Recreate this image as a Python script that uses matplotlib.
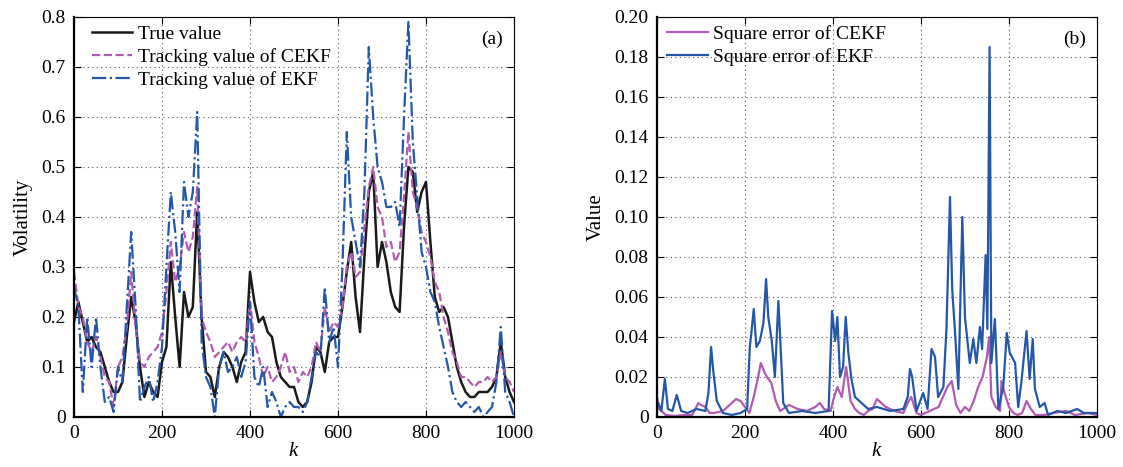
import numpy as np
import matplotlib
matplotlib.use("Agg")
import matplotlib.pyplot as plt
from matplotlib.ticker import FuncFormatter

plt.rcParams['font.family'] = ['Liberation Serif', 'DejaVu Serif']
plt.rcParams['font.size'] = 14
plt.rcParams['mathtext.fontset'] = 'custom'
plt.rcParams['mathtext.it'] = 'Liberation Serif:italic'

# ---- (a) volatility tracking, sampled every 10 steps ----
k = np.arange(0, 1001, 10)

true_vol = [0.19, 0.23, 0.19, 0.15, 0.16, 0.14, 0.13, 0.10, 0.07, 0.05,
            0.05, 0.07, 0.16, 0.24, 0.19, 0.10, 0.04, 0.07, 0.05, 0.04,
            0.11, 0.14, 0.31, 0.20, 0.10, 0.25, 0.20, 0.22, 0.41, 0.20,
            0.09, 0.08, 0.04, 0.10, 0.13, 0.12, 0.10, 0.07, 0.11, 0.13,
            0.29, 0.23, 0.19, 0.20, 0.17, 0.16, 0.11, 0.08, 0.07, 0.06,
            0.06, 0.03, 0.02, 0.03, 0.07, 0.14, 0.13, 0.09, 0.15, 0.16,
            0.16, 0.22, 0.29, 0.35, 0.24, 0.17, 0.32, 0.45, 0.49, 0.30,
            0.35, 0.31, 0.25, 0.22, 0.21, 0.38, 0.50, 0.49, 0.41, 0.45,
            0.47, 0.35, 0.24, 0.21, 0.22, 0.20, 0.15, 0.10, 0.07, 0.05,
            0.04, 0.04, 0.05, 0.05, 0.05, 0.06, 0.08, 0.15, 0.08, 0.05,
            0.03]

cekf_vol = [0.29, 0.22, 0.20, 0.15, 0.13, 0.16, 0.12, 0.08, 0.07, 0.02,
            0.10, 0.12, 0.18, 0.29, 0.18, 0.11, 0.10, 0.12, 0.13, 0.14,
            0.17, 0.25, 0.35, 0.27, 0.30, 0.37, 0.33, 0.36, 0.46, 0.20,
            0.17, 0.15, 0.12, 0.13, 0.14, 0.15, 0.13, 0.15, 0.16, 0.15,
            0.23, 0.15, 0.12, 0.08, 0.10, 0.07, 0.08, 0.10, 0.13, 0.09,
            0.10, 0.07, 0.09, 0.08, 0.10, 0.15, 0.13, 0.22, 0.17, 0.19,
            0.18, 0.22, 0.30, 0.33, 0.28, 0.29, 0.38, 0.46, 0.50, 0.42,
            0.40, 0.34, 0.35, 0.31, 0.33, 0.44, 0.57, 0.45, 0.42, 0.37,
            0.35, 0.32, 0.27, 0.25, 0.20, 0.17, 0.13, 0.11, 0.08, 0.08,
            0.07, 0.06, 0.07, 0.07, 0.08, 0.07, 0.08, 0.13, 0.08, 0.07,
            0.05]

ekf_vol = [0.26, 0.22, 0.05, 0.20, 0.10, 0.20, 0.10, 0.03, 0.04, 0.01,
           0.10, 0.07, 0.22, 0.37, 0.22, 0.03, 0.06, 0.08, 0.03, 0.07,
           0.14, 0.30, 0.45, 0.37, 0.25, 0.47, 0.40, 0.45, 0.61, 0.15,
           0.08, 0.06, 0.00, 0.10, 0.13, 0.09, 0.10, 0.12, 0.08, 0.11,
           0.23, 0.08, 0.06, 0.10, 0.02, 0.05, 0.03, 0.00, 0.02, 0.03,
           0.02, 0.02, 0.01, 0.03, 0.08, 0.13, 0.12, 0.26, 0.15, 0.18,
           0.10, 0.30, 0.57, 0.40, 0.35, 0.30, 0.45, 0.74, 0.60, 0.50,
           0.47, 0.42, 0.42, 0.43, 0.38, 0.60, 0.79, 0.55, 0.44, 0.33,
           0.30, 0.25, 0.23, 0.18, 0.14, 0.10, 0.05, 0.03, 0.02, 0.03,
           0.02, 0.01, 0.02, 0.00, 0.01, 0.02, 0.07, 0.18, 0.05, 0.03,
           0.00]

# ---- (b) square errors ----
cekf_err_k = [0, 5, 20, 40, 60, 80, 94, 100, 110, 120, 130, 150, 160, 170,
              180, 190, 200, 210, 220, 230, 236, 245, 250, 260, 270, 280,
              300, 320, 340, 360, 370, 380, 395, 400, 410, 420, 430, 440,
              450, 460, 470, 480, 490, 500, 520, 540, 560, 570, 578, 590,
              600, 620, 640, 650, 660, 670, 680, 690, 700, 710, 720, 730,
              740, 750, 755, 760, 770, 780, 783, 790, 800, 810, 820, 830,
              840, 850, 860, 880, 900, 930, 950, 980, 1000]
cekf_err = [0.010, 0.004, 0.001, 0.0005, 0.001, 0.001, 0.007, 0.006, 0.005,
            0.002, 0.002, 0.003, 0.005, 0.007, 0.009, 0.008, 0.005, 0.002,
            0.010, 0.020, 0.027, 0.022, 0.020, 0.017, 0.008, 0.003, 0.006,
            0.004, 0.003, 0.005, 0.007, 0.004, 0.003, 0.008, 0.015, 0.010,
            0.025, 0.008, 0.004, 0.002, 0.001, 0.003, 0.004, 0.009, 0.005,
            0.003, 0.002, 0.007, 0.010, 0.002, 0.001, 0.003, 0.005, 0.010,
            0.015, 0.018, 0.006, 0.002, 0.005, 0.003, 0.008, 0.015, 0.020,
            0.030, 0.040, 0.010, 0.005, 0.003, 0.018, 0.012, 0.005, 0.002,
            0.001, 0.002, 0.008, 0.004, 0.001, 0.001, 0.002, 0.003, 0.001,
            0.002, 0.001]

ekf_err_k = [0, 3, 10, 18, 25, 35, 45, 55, 70, 90, 110, 117, 123, 128, 136,
             150, 170, 190, 205, 211, 215, 220, 226, 234, 242, 248, 253, 261,
             268, 276, 280, 287, 300, 330, 360, 390, 398, 405, 410, 416, 423,
             429, 435, 442, 450, 465, 480, 500, 530, 560, 570, 575, 580, 590,
             605, 615, 624, 632, 639, 651, 658, 666, 671, 677, 685, 694, 700,
             711, 719, 726, 734, 739, 747, 751, 756, 760, 768, 776, 787, 795,
             802, 814, 821, 828, 840, 847, 854, 859, 870, 881, 889, 910, 930,
             955, 970, 1000]
ekf_err = [0.005, 0.007, 0.003, 0.019, 0.004, 0.003, 0.011, 0.003, 0.002,
           0.004, 0.003, 0.012, 0.035, 0.023, 0.008, 0.002, 0.001, 0.002,
           0.004, 0.035, 0.043, 0.054, 0.035, 0.038, 0.047, 0.069, 0.050,
           0.038, 0.020, 0.058, 0.040, 0.007, 0.002, 0.003, 0.002, 0.003,
           0.053, 0.038, 0.050, 0.020, 0.025, 0.050, 0.032, 0.019, 0.010,
           0.007, 0.004, 0.005, 0.003, 0.004, 0.010, 0.024, 0.020, 0.003,
           0.012, 0.004, 0.034, 0.030, 0.010, 0.015, 0.044, 0.110, 0.064,
           0.044, 0.014, 0.100, 0.050, 0.027, 0.039, 0.027, 0.045, 0.034,
           0.081, 0.044, 0.185, 0.027, 0.049, 0.004, 0.015, 0.042, 0.032,
           0.027, 0.005, 0.017, 0.043, 0.019, 0.039, 0.014, 0.005, 0.007,
           0.001, 0.003, 0.002, 0.004, 0.002, 0.002]

c_true = '#1a1a1a'
c_cekf = '#b05cb0'
c_ekf = '#2457a8'


def zero_fmt(fmt):
    return FuncFormatter(lambda v, p: '0' if abs(v) < 1e-12 else fmt % v)


def style_axes(ax):
    ax.set_xlim(0, 1000)
    ax.set_xticks(np.arange(0, 1001, 200))
    ax.tick_params(direction='in', top=True, right=True, length=5,
                   width=0.8, labelsize=14, pad=6)
    ax.grid(True, linestyle=(0, (1, 3)), color='0.35', linewidth=0.8)
    for s in ['top', 'right']:
        ax.spines[s].set_linewidth(0.8)
    for s in ['left', 'bottom']:
        ax.spines[s].set_linewidth(1.6)
    ax.set_xlabel('$k$', fontsize=15, labelpad=0)


def add_legend(ax, x0):
    ax.legend(loc='upper left', bbox_to_anchor=(x0, 1.004), frameon=False,
              fontsize=14, handlelength=2.1, borderaxespad=0.1,
              labelspacing=0.26, handletextpad=0.3)


fig = plt.figure(figsize=(11.23, 4.67), dpi=100)
ax1 = fig.add_axes([0.0659, 0.1071, 0.3918, 0.8565])
ax2 = fig.add_axes([0.585, 0.1071, 0.3918, 0.8565])

ax1.plot(k, true_vol, '-', color=c_true, lw=1.8, label='True value')
ax1.plot(k, cekf_vol, '--', color=c_cekf, lw=1.6, label='Tracking value of CEKF')
ax1.plot(k, ekf_vol, '-.', color=c_ekf, lw=1.6, label='Tracking value of EKF')
ax1.set_ylim(0, 0.8)
ax1.set_yticks(np.arange(0, 0.81, 0.1))
ax1.yaxis.set_major_formatter(zero_fmt('%.1f'))
ax1.set_ylabel('Volatility', fontsize=15, labelpad=6)
style_axes(ax1)
add_legend(ax1, 0.018)
ax1.text(0.975, 0.965, '(a)', transform=ax1.transAxes, ha='right', va='top',
         fontsize=14)

ax2.plot(cekf_err_k, cekf_err, '-', color=c_cekf, lw=1.6,
         label='Square error of CEKF')
ax2.plot(ekf_err_k, ekf_err, '-', color=c_ekf, lw=1.6,
         label='Square error of EKF')
ax2.set_ylim(0, 0.2)
ax2.set_yticks(np.arange(0, 0.201, 0.02))
ax2.yaxis.set_major_formatter(zero_fmt('%.2f'))
ax2.set_ylabel('Value', fontsize=15, labelpad=6)
style_axes(ax2)
add_legend(ax2, 0.0)
ax2.text(0.975, 0.965, '(b)', transform=ax2.transAxes, ha='right', va='top',
         fontsize=14)

fig.savefig('out.png', dpi=100)
